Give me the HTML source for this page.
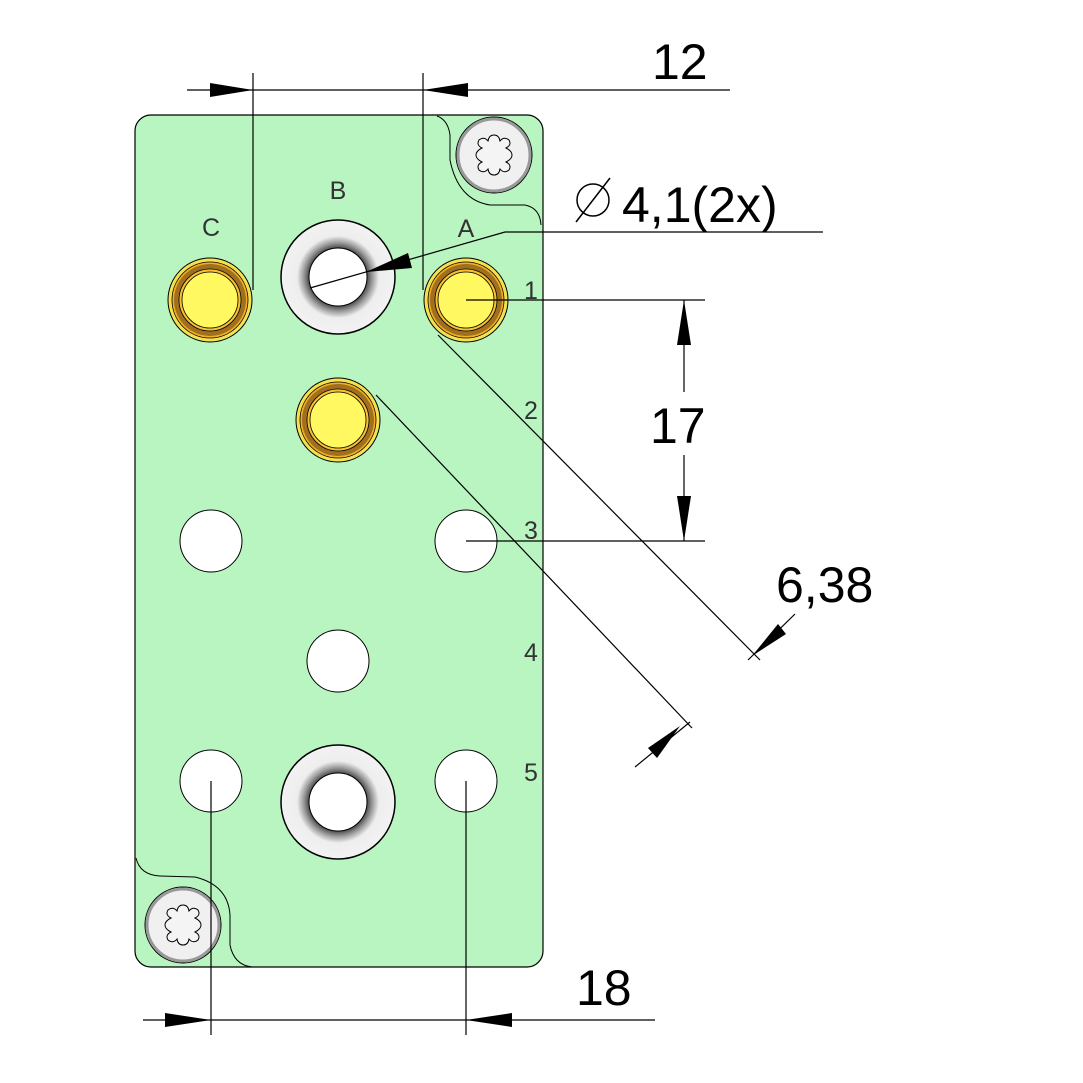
<!DOCTYPE html>
<html><head><meta charset="utf-8"><style>html,body{margin:0;padding:0;background:#fff}svg{display:block}</style></head><body>
<svg width="1083" height="1083" viewBox="0 0 1083 1083" xmlns="http://www.w3.org/2000/svg" font-family="Liberation Sans, sans-serif">
<defs>
<radialGradient id="cb" cx="50%" cy="50%" r="50%">
<stop offset="0.5" stop-color="#444"/><stop offset="0.6" stop-color="#999"/><stop offset="0.72" stop-color="#eee"/><stop offset="1" stop-color="#f2f2f2"/>
</radialGradient>
<g id="pin">
<circle r="42" fill="#f5e050" stroke="#000" stroke-width="1"/>
<circle r="38" fill="#f0b020" stroke="#000" stroke-width="0.8"/>
<circle r="36" fill="#a07020"/>
<circle r="31" fill="#f8c030" stroke="#000" stroke-width="0.8"/>
<circle r="28" fill="#fff860" stroke="#000" stroke-width="0.8"/>
</g>
<g id="cbore">
<circle r="57" fill="url(#cb)" stroke="#000" stroke-width="1.5"/>
<circle r="29" fill="#fff" stroke="#000" stroke-width="1"/>
</g>
<g id="screw">
<circle r="38" fill="#f0f0f0" stroke="#000" stroke-width="1"/>
<circle r="36" fill="none" stroke="#999" stroke-width="3"/>
<path d="M0,-20 Q5,-20 6,-14 Q10,-19 15,-15 Q18,-10 12,-7 Q18,-4 18,0 Q18,4 12,7 Q18,10 15,15 Q10,19 6,14 Q5,20 0,20 Q-5,20 -6,14 Q-10,19 -15,15 Q-18,10 -12,7 Q-18,4 -18,0 Q-18,-4 -12,-7 Q-18,-10 -15,-15 Q-10,-19 -6,-14 Q-5,-20 0,-20Z" fill="#f4f4f4" stroke="#000" stroke-width="1"/>
</g>
</defs>
<rect x="135" y="115" width="408" height="852" rx="16" fill="#b9f5c1" stroke="#000" stroke-width="1.2"/>
<path d="M437,116 Q448,120 450,135 L450,160 Q458,200 490,205 L525,205 Q540,208 541,225" fill="none" stroke="#000"/>
<path d="M136,858 Q140,875 160,876 L195,877 Q228,885 230,915 L230,945 Q234,965 252,967" fill="none" stroke="#000"/>
<use href="#screw" x="494" y="155"/>
<use href="#screw" x="183" y="925"/>
<use href="#pin" x="210" y="300"/>
<use href="#pin" x="466" y="300"/>
<use href="#pin" x="338" y="420"/>
<use href="#cbore" x="338" y="277"/>
<use href="#cbore" x="338" y="802"/>
<g fill="#fff" stroke="#000" stroke-width="1">
<circle cx="211" cy="541" r="31"/><circle cx="466" cy="541" r="31"/>
<circle cx="338" cy="661" r="31"/><circle cx="211" cy="781" r="31"/><circle cx="466" cy="781" r="31"/>
</g>
<g fill="#333" font-size="25" text-anchor="middle">
<text x="211" y="236">C</text><text x="338" y="199">B</text><text x="466" y="237">A</text>
<text x="531" y="299">1</text><text x="531" y="419">2</text><text x="531" y="539">3</text><text x="531" y="661">4</text><text x="531" y="781">5</text>
</g>
<g stroke="#000" stroke-width="1.2" fill="none">
<line x1="253" y1="73" x2="253" y2="290"/><line x1="423" y1="73" x2="423" y2="290"/>
<line x1="187" y1="90" x2="730" y2="90"/>
<line x1="466" y1="300" x2="705" y2="300"/><line x1="466" y1="541" x2="705" y2="541"/>
<line x1="684" y1="300" x2="684" y2="392"/><line x1="684" y1="455" x2="684" y2="541"/>
<line x1="211" y1="781" x2="211" y2="1035"/><line x1="466" y1="781" x2="466" y2="1035"/>
<line x1="143" y1="1020" x2="655" y2="1020"/>
<polyline points="310,288 505,232 823,232"/>
<line x1="438" y1="335" x2="760" y2="660"/><line x1="376" y1="395" x2="692" y2="728"/>
<line x1="748" y1="660" x2="795" y2="614"/><line x1="635" y1="767" x2="690" y2="722"/>
</g>
<g fill="#000">
<polygon points="253,90 210,83 210,97"/><polygon points="423,90 468,83 468,97"/>
<polygon points="684,300 677,345 691,345"/><polygon points="684,541 677,496 691,496"/>
<polygon points="211,1020 165,1013 165,1027"/><polygon points="466,1020 512,1013 512,1027"/>
<polygon points="366,272 408,253 412,268"/>
<polygon points="752,656 778,624 786,634"/><polygon points="680,726 648,748 657,758"/>
</g>
<g fill="#000" font-size="50">
<text x="652" y="79">12</text>
<text x="650" y="443">17</text>
<text x="776" y="602">6,38</text>
<text x="576" y="1005">18</text>
<text x="622" y="222">4,1(2x)</text>
</g>
<circle cx="593" cy="200" r="16" fill="none" stroke="#000" stroke-width="1.5"/>
<line x1="576" y1="222" x2="610" y2="178" stroke="#000" stroke-width="1.5"/>
</svg>
</body></html>
